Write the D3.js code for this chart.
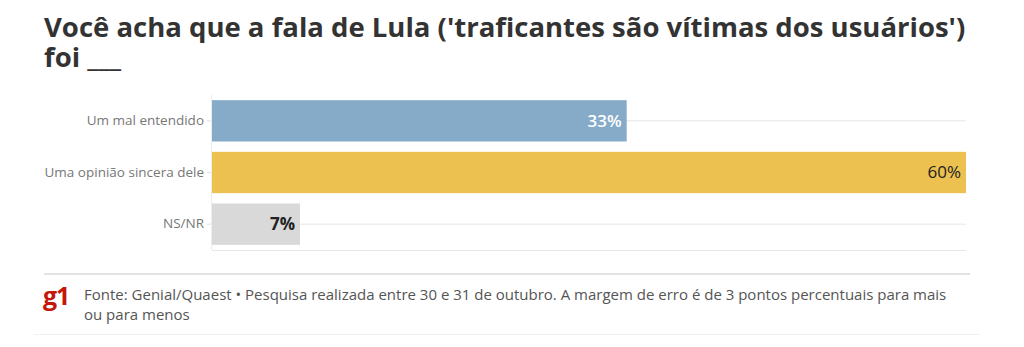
<!DOCTYPE html>
<html><head><meta charset="utf-8">
<script src="https://cdn.jsdelivr.net/npm/d3@7"></script>
<style>
body{margin:0;background:#fff;font-family:"Open Sans",sans-serif;}
svg text{font-family:"Open Sans",sans-serif;}
</style></head>
<body><svg id="c" width="1024" height="347"></svg>
<script>
const categories = ["Um mal entendido", "Uma opinião sincera dele", "NS/NR"];
const values = [33, 60, 7];
const colors = ["#86abc9", "#ecc14f", "#d9d9d9"];
const labelColors = ["#ffffff", "#222222", "#222222"];
const labelWeights = [600, 400, 700];

(function(){
const svg = d3.select("#c");
const pLeft = 212, pRight = 966, pTop = 95, pBottom = 250;

svg.append("text").attr("x", 44).attr("y", 37)
  .attr("font-size", 27.5).attr("font-weight", 700).attr("fill", "#333")
  .text("Você acha que a fala de Lula ('traficantes são vítimas dos usuários')");
svg.append("text").attr("x", 44).attr("y", 67)
  .attr("font-size", 27.5).attr("font-weight", 700).attr("fill", "#333")
  .text("foi ___");

const x = d3.scaleLinear().domain([0, 60]).range([pLeft, pRight]);
const y = d3.scaleBand().domain(categories).range([pTop, pBottom]).paddingInner(0.2).paddingOuter(0.1);

const g = svg.append("g");
g.selectAll("line.grid").data(categories).enter().append("line")
  .attr("x1", pLeft).attr("x2", pRight)
  .attr("y1", d => y(d) + y.bandwidth()/2).attr("y2", d => y(d) + y.bandwidth()/2)
  .attr("stroke", "#e6e6e6").attr("stroke-width", 1);
g.append("line").attr("x1", pLeft).attr("x2", pRight).attr("y1", pBottom + 0.5).attr("y2", pBottom + 0.5)
  .attr("stroke", "#e6e6e6");
g.append("line").attr("x1", pLeft - 0.5).attr("x2", pLeft - 0.5).attr("y1", pTop).attr("y2", pBottom)
  .attr("stroke", "#ececec");

const ax = svg.append("g").attr("transform", `translate(${pLeft - 1},0)`)
  .call(d3.axisLeft(y).tickSize(4).tickPadding(3));
ax.select(".domain").remove();
ax.selectAll(".tick line").attr("stroke", "#e0e0e0");
ax.selectAll(".tick text").attr("font-size", 13.5).attr("fill", "#777").attr("font-family", "Open Sans");

svg.selectAll("rect.bar").data(values).enter().append("rect")
  .attr("x", pLeft).attr("y", (d, i) => y(categories[i]))
  .attr("width", d => x(d) - pLeft).attr("height", y.bandwidth())
  .attr("fill", (d, i) => colors[i]);

svg.selectAll("text.val").data(values).enter().append("text")
  .attr("x", d => x(d) - 5).attr("y", (d, i) => y(categories[i]) + y.bandwidth()/2)
  .attr("dy", "0.35em").attr("text-anchor", "end")
  .attr("font-size", 17).attr("font-weight", (d, i) => labelWeights[i])
  .attr("fill", (d, i) => labelColors[i])
  .text(d => d + "%");

svg.append("line").attr("x1", 44).attr("x2", 970).attr("y1", 274).attr("y2", 274)
  .attr("stroke", "#e3e3e3").attr("stroke-width", 2);
svg.append("text").attr("x", 43).attr("y", 305).attr("font-size", 25).attr("font-weight", 700)
  .attr("fill", "#c4170c").attr("letter-spacing", -1).text("g1");
svg.append("text").attr("x", 84).attr("y", 300).attr("font-size", 15).attr("fill", "#555")
  .text("Fonte: Genial/Quaest • Pesquisa realizada entre 30 e 31 de outubro. A margem de erro é de 3 pontos percentuais para mais");
svg.append("text").attr("x", 84).attr("y", 320).attr("font-size", 15).attr("fill", "#555")
  .text("ou para menos");
svg.append("line").attr("x1", 34).attr("x2", 980).attr("y1", 334.5).attr("y2", 334.5)
  .attr("stroke", "#f0f0f0");
})();
</script></body></html>
